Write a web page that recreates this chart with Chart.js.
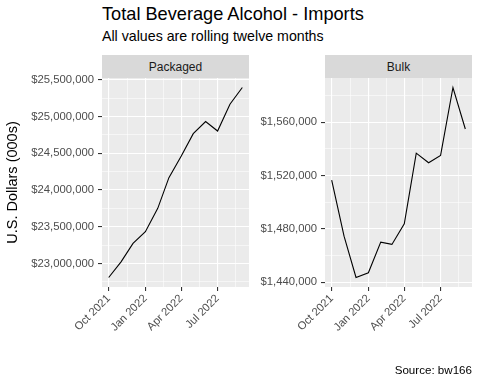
<!DOCTYPE html>
<html lang="en">
<head>
<meta charset="UTF-8">
<title>Total Beverage Alcohol - Imports</title>
<script src="https://cdn.jsdelivr.net/npm/chart.js"></script>
<style>
  body { margin: 0; background: #fff; font-family: "Liberation Sans", Arial, sans-serif; }
  #pagina { position: relative; width: 480px; height: 384px; overflow: hidden; }
  .txt { position: absolute; white-space: nowrap; line-height: 1; }
  .faixa { position: absolute; top: 55px; height: 23px; background: #D9D9D9; color: #1A1A1A;
           font-size: 12px; display: flex; align-items: center; justify-content: center; }
  .caixa { position: absolute; top: 0; height: 384px; }
</style>
</head>
<body>
<div id="pagina">
  <div class="txt" style="left:102px; top:5px; font-size:18.2px; color:#000">Total Beverage Alcohol - Imports</div>
  <div class="txt" style="left:102px; top:29px; font-size:14.2px; color:#000">All values are rolling twelve months</div>

  <div class="faixa" style="left:102px; width:147px">Packaged</div>
  <div class="faixa" style="left:325px; width:147px">Bulk</div>

  <div class="caixa" style="left:0; width:250px"><canvas id="packaged"></canvas></div>
  <div class="caixa" style="left:250px; width:230px"><canvas id="bulk"></canvas></div>

  <div class="txt" style="right:8px; top:364px; font-size:11.6px; color:#000">Source: bw166</div>
</div>

<script>
  // dados (US$ mil, doze meses moveis)
  var meses = ['2021-10-01', '2021-11-01', '2021-12-01', '2022-01-01', '2022-02-01', '2022-03-01',
               '2022-04-01', '2022-05-01', '2022-06-01', '2022-07-01', '2022-08-01', '2022-09-01'];
  var packaged = [22809000, 23022000, 23273000, 23432000, 23751000, 24169000,
                  24464000, 24768000, 24932000, 24803000, 25168000, 25396000];
  var bulk = [1516500, 1474500, 1443500, 1447000, 1470000, 1468300,
              1483700, 1536700, 1529500, 1535000, 1585900, 1554800];

  // rotulos do eixo x
  var datasEixoX = ['2021-10-01', '2022-01-01', '2022-04-01', '2022-07-01'];
  var rotulosEixoX = ['Oct 2021', 'Jan 2022', 'Apr 2022', 'Jul 2022'];

  // quebras do eixo y
  var ticksPackaged = [23000000, 23500000, 24000000, 24500000, 25000000, 25500000];
  var ticksBulk = [1440000, 1480000, 1520000, 1560000];

  var fonte = '"Liberation Sans", Arial, sans-serif';

  function emDias(s) {
    return (Date.parse(s + 'T00:00:00Z') - Date.parse(meses[0] + 'T00:00:00Z')) / 86400000;
  }

  var dias = meses.map(emDias);
  var diasEixoX = datasEixoX.map(emDias);

  // monta os ticks maiores + menores (pontos medios, estilo ggplot)
  function montarTicks(maiores, rotulos, min, max) {
    var lista = [];
    var passo = maiores[1] - maiores[0];
    var ext = [maiores[0] - passo].concat(maiores, [maiores[maiores.length - 1] + passo]);
    for (var i = 0; i < ext.length - 1; i++) {
      var meio = (ext[i] + ext[i + 1]) / 2;
      if (meio >= min && meio <= max) lista.push({ value: meio, menor: true, rotulo: '' });
    }
    for (var j = 0; j < maiores.length; j++) {
      lista.push({ value: maiores[j], menor: false, rotulo: rotulos[j] });
    }
    lista.sort(function (a, b) { return a.value - b.value; });
    return lista;
  }

  // fundo cinza do painel
  var fundoPainel = {
    id: 'fundoPainel',
    beforeDraw: function (chart) {
      var a = chart.chartArea, c = chart.ctx;
      c.save();
      c.fillStyle = '#EBEBEB';
      c.fillRect(a.left, a.top, a.right - a.left, a.bottom - a.top);
      c.restore();
    }
  };

  function gradeLargura(ctx) { return ctx.tick && ctx.tick.menor ? 0.55 : 1.1; }
  function gradeTick(ctx) { return ctx.tick && ctx.tick.menor ? 'rgba(0,0,0,0)' : '#333333'; }

  function plotarPainel(id, valores, ticksY, larguraY, padDireita, tituloY) {
    var pontos = [];
    for (var i = 0; i < valores.length; i++) {
      pontos.push({ x: dias[i], y: valores[i] });
    }

    var xMin = dias[0], xMax = dias[dias.length - 1];
    var xExp = (xMax - xMin) * 0.05;
    var yMin = Math.min.apply(null, valores), yMax = Math.max.apply(null, valores);
    var yExp = (yMax - yMin) * 0.05;

    var rotulosY = ticksY.map(function (v) { return '$' + v.toLocaleString('en-US'); });

    new Chart(document.getElementById(id), {
      type: 'line',
      data: {
        datasets: [{
          data: pontos,
          borderColor: '#000000',
          borderWidth: 1.1,
          pointRadius: 0,
          tension: 0,
          fill: false
        }]
      },
      options: {
        responsive: true,
        maintainAspectRatio: false,
        animation: false,
        layout: { padding: { top: 78, right: padDireita, bottom: 0, left: 0 } },
        plugins: { legend: { display: false }, tooltip: { enabled: false } },
        scales: {
          x: {
            type: 'linear',
            min: xMin - xExp,
            max: xMax + xExp,
            afterFit: function (s) { s.height = 97; },
            afterBuildTicks: function (s) {
              s.ticks = montarTicks(diasEixoX, rotulosEixoX, xMin - xExp, xMax + xExp);
            },
            border: { display: false },
            grid: { color: '#FFFFFF', lineWidth: gradeLargura, tickColor: gradeTick, tickWidth: 1.1, tickLength: 4 },
            ticks: {
              autoSkip: false, minRotation: 45, maxRotation: 45, padding: 1,
              color: '#4D4D4D', font: { family: fonte, size: 11.2 },
              callback: function (v, i, t) { return t[i].rotulo; }
            }
          },
          y: {
            min: yMin - yExp,
            max: yMax + yExp,
            afterFit: function (s) { s.width = larguraY; },
            afterBuildTicks: function (s) {
              s.ticks = montarTicks(ticksY, rotulosY, yMin - yExp, yMax + yExp);
            },
            border: { display: false },
            grid: { color: '#FFFFFF', lineWidth: gradeLargura, tickColor: gradeTick, tickWidth: 1.1, tickLength: 4 },
            ticks: {
              autoSkip: false, padding: 4,
              color: '#4D4D4D', font: { family: fonte, size: 11.3 },
              callback: function (v, i, t) { return t[i].rotulo; }
            },
            title: {
              display: !!tituloY, text: tituloY || '', color: '#000000',
              font: { family: fonte, size: 14.5 }, padding: { top: 4, bottom: 0 }
            }
          }
        }
      },
      plugins: [fundoPainel]
    });
  }

  plotarPainel('packaged', packaged, ticksPackaged, 102, 1, 'U.S. Dollars (000s)');
  plotarPainel('bulk', bulk, ticksBulk, 75, 8, '');
</script>
</body>
</html>
